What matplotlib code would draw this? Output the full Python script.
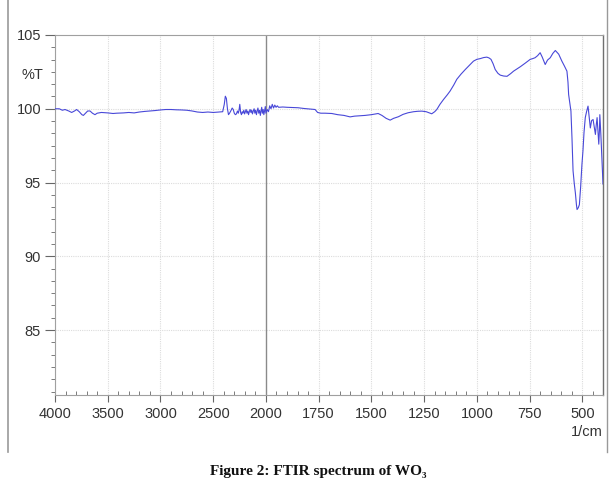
import numpy as np
import matplotlib
matplotlib.use("Agg")
import matplotlib.pyplot as plt
from matplotlib.lines import Line2D

# ---- data ----
wavenumber = [
    4000, 3960, 3930, 3905, 3870, 3842, 3815, 3795, 3770, 3745, 3731, 3710, 3690, 3668,
    3645, 3621, 3600, 3560, 3500, 3450, 3415, 3350, 3300, 3250, 3200, 3150, 3100, 3050,
    3000, 2950, 2900, 2850, 2800, 2750, 2700, 2650, 2600, 2550, 2500, 2450, 2410, 2395,
    2385, 2375, 2365, 2355, 2345, 2330, 2320, 2310, 2300, 2290, 2280, 2270, 2262, 2255,
    2248, 2240, 2232, 2225, 2218, 2210, 2202, 2195, 2188, 2180, 2172, 2165, 2158, 2150,
    2142, 2135, 2128, 2120, 2112, 2105, 2098, 2090, 2083, 2076, 2068, 2060, 2053, 2046,
    2040, 2033, 2026, 2020, 2013, 2006, 2000, 1994, 1988, 1982, 1976, 1970, 1964, 1958,
    1952, 1946, 1940, 1920, 1900, 1870, 1848, 1820, 1790, 1767, 1755, 1740, 1720, 1688,
    1660, 1630, 1601, 1580, 1560, 1530, 1500, 1468, 1450, 1430, 1411, 1395, 1372, 1350,
    1326, 1300, 1280, 1261, 1240, 1225, 1214, 1200, 1190, 1175, 1158, 1140, 1127, 1110,
    1095, 1075, 1055, 1035, 1016, 1000, 984, 968, 953, 943, 933, 923, 913, 900, 889, 873,
    857, 840, 826, 810, 794, 770, 747, 735, 724, 712, 700, 690, 676, 665, 652, 640, 628,
    612, 597, 585, 573, 568, 565, 554, 549, 544, 538, 533, 528, 525, 519, 514, 508, 502,
    497, 492, 486, 480, 473, 468, 462, 456, 449, 443, 438, 434, 430, 426, 422, 419, 417,
    412, 406, 402,
]
transmittance = [
    100.0, 100.0, 99.9, 99.95, 99.85, 99.75, 99.85, 99.95, 99.8, 99.6, 99.55, 99.7, 99.85, 99.85,
    99.7, 99.6, 99.7, 99.75, 99.72, 99.68, 99.7, 99.72, 99.75, 99.72, 99.78, 99.82, 99.85, 99.88,
    99.92, 99.95, 99.95, 99.93, 99.92, 99.9, 99.85, 99.78, 99.75, 99.78, 99.75, 99.78, 99.8, 100.3,
    100.85, 100.7, 100.0, 99.6, 99.7, 99.9, 100.05, 99.95, 99.7, 99.6, 99.65, 99.85, 99.7, 99.9,
    100.3, 99.75, 99.6, 99.8, 99.7, 99.9, 99.65, 99.8, 99.95, 99.7, 99.85, 99.6, 99.8, 99.95,
    99.75, 99.9, 99.65, 99.85, 100.0, 99.7, 99.9, 99.6, 99.85, 100.05, 99.7, 99.9, 99.55, 99.85,
    100.1, 99.7, 99.95, 99.6, 99.85, 100.15, 99.7, 99.95, 99.8, 100.2, 100.0, 100.3, 100.05, 100.25,
    100.1, 100.2, 100.1, 100.12, 100.1, 100.08, 100.07, 100.02, 99.98, 99.95, 99.75, 99.7, 99.7, 99.68,
    99.6, 99.55, 99.45, 99.5, 99.52, 99.55, 99.6, 99.68, 99.55, 99.35, 99.23, 99.35, 99.46, 99.62,
    99.73, 99.8, 99.83, 99.84, 99.8, 99.72, 99.66, 99.8, 99.95, 100.3, 100.63, 100.95, 101.2, 101.6,
    102.0, 102.35, 102.66, 102.95, 103.23, 103.35, 103.4, 103.47, 103.5, 103.45, 103.35, 103.05, 102.66, 102.4, 102.28, 102.22,
    102.2, 102.38, 102.55, 102.7, 102.85, 103.1, 103.35, 103.4, 103.46, 103.6, 103.8, 103.5, 103.0, 103.3, 103.46, 103.75, 103.95,
    103.7, 103.23, 102.9, 102.55, 101.8, 100.97, 99.84, 98.0, 95.8, 94.9, 94.3, 93.5, 93.17, 93.3, 93.5, 94.7, 96.2,
    97.15, 98.4, 99.4, 99.8, 100.18, 99.5, 98.7, 99.2, 99.27, 98.7, 98.26, 98.9, 99.4, 98.5, 97.6, 98.5, 99.6,
    98.2, 96.2, 94.9,
]
x_major = [4000, 3500, 3000, 2500, 2000, 1750, 1500, 1250, 1000, 750, 500]
x_labels = ["4000", "3500", "3000", "2500", "2000", "1750", "1500", "1250", "1000", "750", "500"]
y_major = [85, 90, 95, 100, 105]
y_labels = ["85", "90", "95", "100", "105"]
caption = "Figure 2: FTIR spectrum of WO\u2083"


def fwd(x):
    x = np.asarray(x, dtype=float)
    return np.where(x > 2000, 2000 + (x - 2000) * 0.5, x)


def inv(y):
    y = np.asarray(y, dtype=float)
    return np.where(y > 2000, 2000 + (y - 2000) * 2.0, y)


W, H = 610, 478
fig = plt.figure(figsize=(W / 100, H / 100), dpi=100)
ax = fig.add_axes([55 / W, 1 - 395 / H, (603 - 55) / W, (395 - 35) / H])
ax.set_xscale("function", functions=(fwd, inv))
ax.set_xlim(4000, 402)
ax.set_ylim(80.6, 105)

# grid
for v in x_major:
    if v == 2000:
        continue
    ax.axvline(v, color="#dcdcdc", lw=0.8, ls=(0, (1, 1)), zorder=0)
for v in [85, 90, 95, 100]:
    ax.axhline(v, color="#dcdcdc", lw=0.8, ls=(0, (1, 1)), zorder=0)
ax.axvline(2000, color="#8a8a8a", lw=1.0, zorder=1)

ax.plot(wavenumber, transmittance, color="#4848d8", lw=0.8, zorder=3)

# ticks
ax.set_xticks(x_major)
ax.set_xticklabels(x_labels)
minor_x = list(range(3900, 2000, -100)) + list(range(1950, 400, -50))
minor_x = [m for m in minor_x if m not in x_major]
ax.set_xticks(minor_x, minor=True)
ax.set_yticks(y_major)
ax.set_yticklabels(y_labels)
minor_y = []
for base in [80, 85, 90, 95, 100]:
    for k in range(1, 6):
        val = base + k * 5 / 6
        if val > 80.6:
            minor_y.append(val)
ax.set_yticks(minor_y, minor=True)

for lab in ax.get_xticklabels() + ax.get_yticklabels():
    lab.set_family("Liberation Sans")
    lab.set_fontsize(10.5)
    lab.set_color("#333333")

ax.tick_params(axis="x", which="major", direction="out", length=5, width=0.8, color="#666666", pad=4)
ax.tick_params(axis="x", which="minor", direction="in", length=3, width=0.6, color="#666666")
ax.tick_params(axis="y", which="major", direction="out", length=7, width=0.8, color="#666666", pad=3)
ax.tick_params(axis="y", which="minor", direction="out", length=3, width=0.6, color="#666666")

for side in ["left", "bottom", "top"]:
    ax.spines[side].set_color("#a0a0a0")
    ax.spines[side].set_linewidth(0.8)
ax.spines["right"].set_color("#707070")
ax.spines["right"].set_linewidth(1.0)

ax.text(-0.022, 102.3, "%T", transform=ax.get_yaxis_transform(), ha="right", va="center",
        fontsize=10.5, color="#333333", family="Liberation Sans")
ax.text(1.0, -0.103, "1/cm", transform=ax.transAxes, ha="right", va="center",
        fontsize=10.5, color="#333333", family="Liberation Sans")

# figure frame lines
fig.add_artist(Line2D([8 / W, 8 / W], [1 - 452 / H, 1.0], color="#999999", lw=1.2))
fig.add_artist(Line2D([607 / W, 607 / W], [1 - 452 / H, 1.0], color="#999999", lw=1.0))

fig.text(318 / W, 1 - 471 / H, caption, ha="center", va="center", fontsize=11,
         fontweight="bold", family=["Liberation Serif", "DejaVu Serif"], color="#111111")

fig.savefig("out.png", dpi=100)
